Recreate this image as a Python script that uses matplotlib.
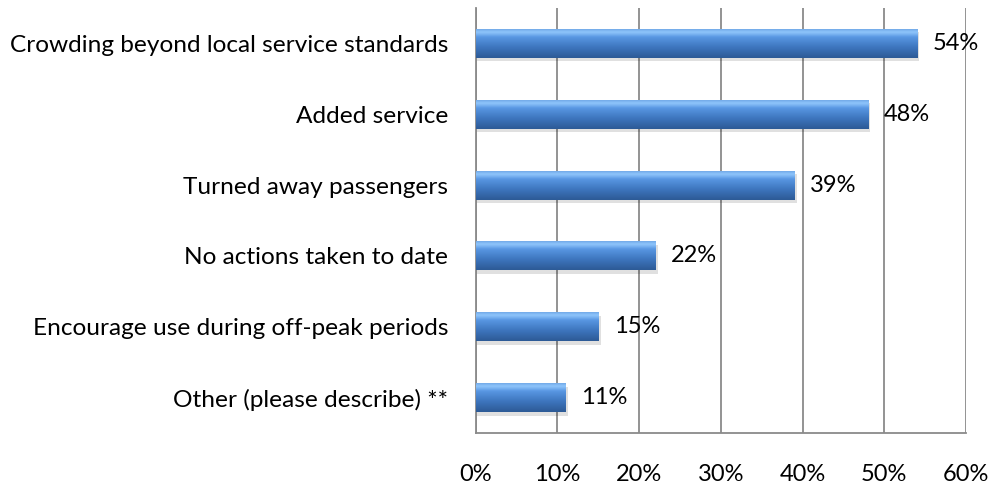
import numpy as np
import matplotlib
matplotlib.use("Agg")
import matplotlib.pyplot as plt
from matplotlib.colors import LinearSegmentedColormap

categories = [
    "Crowding beyond local service standards",
    "Added service",
    "Turned away passengers",
    "No actions taken to date",
    "Encourage use during off-peak periods",
    "Other (please describe) **",
]
values = [54, 48, 39, 22, 15, 11]
xticks = [0, 10, 20, 30, 40, 50, 60]
xticklabels = ["0%", "10%", "20%", "30%", "40%", "50%", "60%"]

plt.rcParams['font.family'] = ['Lato', 'DejaVu Sans']
FS = 17

fig = plt.figure(figsize=(9.92, 4.88), dpi=100)
ax = fig.add_axes([475.5/992, 1-433/488, (966-475.5)/992, (433-8)/488])

n = len(categories)
ypos = np.arange(n)[::-1]
bh = 0.41

grad = LinearSegmentedColormap.from_list(
    "g", [(0.0, "#2d5a96"), (0.35, "#3d75bd"), (0.7, "#5896e2"), (0.87, "#8fc6fc"), (1.0, "#6aa2e2")])

# shadows
for y, v in zip(ypos, values):
    ax.barh(y - 0.05, v + 0.3, height=bh, left=0, color="#000000", alpha=0.12, zorder=2, linewidth=0)

bars = ax.barh(ypos, values, height=bh, color="#4a86d0", zorder=3, linewidth=0)
g = np.linspace(0, 1, 64).reshape(-1, 1)
for b in bars:
    x0, y0 = b.get_x(), b.get_y()
    w, h = b.get_width(), b.get_height()
    im = ax.imshow(g, cmap=grad, aspect="auto", origin="lower",
                   extent=[x0, x0 + w, y0, y0 + h], zorder=4, interpolation="bicubic")
    im.set_clip_path(b)

for y, v in zip(ypos, values):
    ax.text(v + 1.9, y, f"{v}%", va="center", ha="left", fontsize=FS, color="#000000", zorder=5)

ax.set_xlim(0, 60)
ax.set_ylim(-0.5, n - 0.5)
ax.set_xticks(xticks)
ax.set_xticklabels(xticklabels, fontsize=FS)
ax.set_yticks(ypos)
ax.set_yticklabels(categories, fontsize=17.6)
ax.tick_params(axis="x", length=0, pad=22)
ax.tick_params(axis="y", length=0, pad=19.5)
ax.xaxis.grid(True, color="#8a8a8a", linewidth=1.3, zorder=0)
ax.set_axisbelow(True)
for s in ["top", "right"]:
    ax.spines[s].set_visible(False)
for s in ["left", "bottom"]:
    ax.spines[s].set_color("#8a8a8a")
    ax.spines[s].set_linewidth(1.3)

fig.savefig("out.png", dpi=100)
